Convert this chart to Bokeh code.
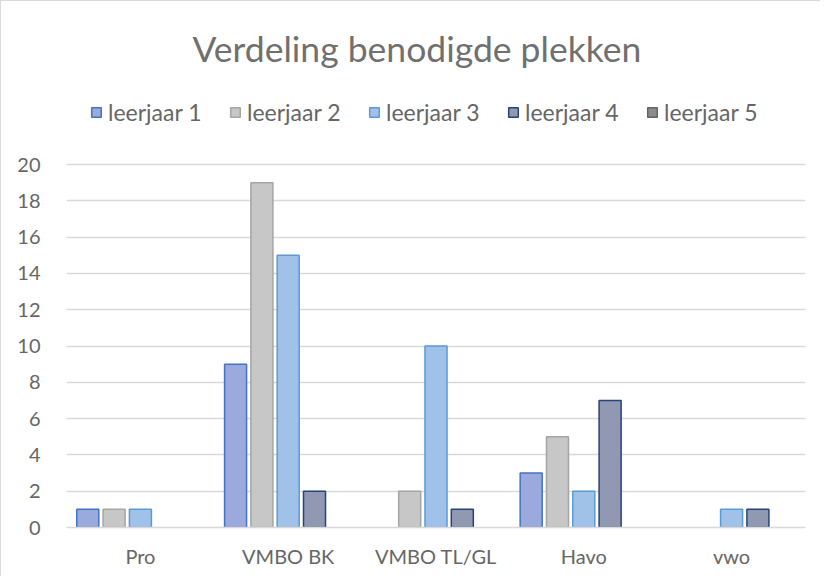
from bokeh.plotting import figure
from bokeh.models import (ColumnDataSource, FactorRange, Legend, LegendItem, Label,
                          CDSView, BooleanFilter, FixedTicker, Range1d)
from bokeh.transform import dodge
from bokeh.embed import file_html
from bokeh.resources import INLINE

# ---- data ----
categories = ["Pro", "VMBO BK", "VMBO TL/GL", "Havo", "vwo"]
series_names = ["leerjaar 1", "leerjaar 2", "leerjaar 3", "leerjaar 4", "leerjaar 5"]
leerjaar_1 = [1, 9, 0, 3, 0]
leerjaar_2 = [1, 19, 2, 5, 0]
leerjaar_3 = [1, 15, 10, 2, 1]
leerjaar_4 = [0, 2, 1, 7, 1]
leerjaar_5 = [0, 0, 0, 0, 0]
y_ticks = list(range(0, 21, 2))
title_text = "Verdeling benodigde plekken"

series_values = [leerjaar_1, leerjaar_2, leerjaar_3, leerjaar_4, leerjaar_5]
fills = ["#9aaadc", "#c7c7c7", "#a0c1e8", "#9198b1", "#8c8c8c"]
lines = ["#4472c4", "#a5a5a5", "#5b9bd5", "#264478", "#636363"]
offsets = [-0.356, -0.178, 0.0, 0.178, 0.356]

FONT = "Lato"
GRAY = "#666666"

# layout: frame fills the figure from the top; grid (0..20) occupies the lower 363 px
FRAME_H = 526
GRID_H = 363
y_top = y_ticks[-1] * FRAME_H / GRID_H

p = figure(x_range=FactorRange(*categories, range_padding=0),
           y_range=Range1d(0, y_top),
           width=820, height=576, output_backend="svg", toolbar_location=None,
           min_border_left=65, min_border_right=16, min_border_top=0,
           min_border_bottom=50)
p.styles = {"border-left": "1px solid #d9d9d9", "border-top": "1px solid #d9d9d9"}
p.outline_line_color = None
p.background_fill_color = "white"
p.border_fill_color = "white"

items = []
for name, vals, fc, lc, off in zip(series_names, series_values, fills, lines, offsets):
    src = ColumnDataSource(dict(cat=categories, top=vals))
    view = CDSView(filter=BooleanFilter([v > 0 for v in vals]))
    kw = dict(x=dodge("cat", off, range=p.x_range), top="top", bottom=0, width=0.149,
              source=src, fill_color=fc, line_color=lc, line_width=1.5)
    p.vbar(view=view, **kw)
    key = p.vbar(**kw)          # unfiltered copy, hidden, used only for the legend key
    key.visible = False
    items.append(LegendItem(label=name, renderers=[key]))

# axes
p.yaxis.ticker = FixedTicker(ticks=y_ticks)
p.yaxis.axis_line_color = None
p.yaxis.major_tick_line_color = None
p.yaxis.minor_tick_line_color = None
p.yaxis.major_label_standoff = 20
p.yaxis.major_label_text_font = FONT
p.yaxis.major_label_text_font_size = "20px"
p.yaxis.major_label_text_color = GRAY

p.xaxis.axis_line_color = "#d9d9d9"
p.xaxis.axis_line_width = 1.5
p.xaxis.major_tick_line_color = None
p.xaxis.minor_tick_line_color = None
p.xaxis.major_label_standoff = 10
p.xaxis.major_label_text_font = FONT
p.xaxis.major_label_text_font_size = "20px"
p.xaxis.major_label_text_color = GRAY

p.xgrid.grid_line_color = None
p.ygrid.grid_line_color = "#d9d9d9"
p.ygrid.grid_line_width = 1.5

legend = Legend(items=items, orientation="horizontal", location=(24, 401),
                glyph_width=12, glyph_height=12, label_standoff=6, label_width=121,
                spacing=0, padding=0, margin=0, border_line_color=None,
                background_fill_alpha=0, label_text_font=FONT,
                label_text_font_size="23px", label_text_color=GRAY)
p.add_layout(legend, "center")

title = Label(x=126, y=479, x_units="screen", y_units="screen", text=title_text,
              text_align="left", text_baseline="middle", text_font=FONT,
              text_font_size="35.5px", text_color="#707070")
p.add_layout(title)

open("out.html", "w").write(file_html(p, INLINE))
